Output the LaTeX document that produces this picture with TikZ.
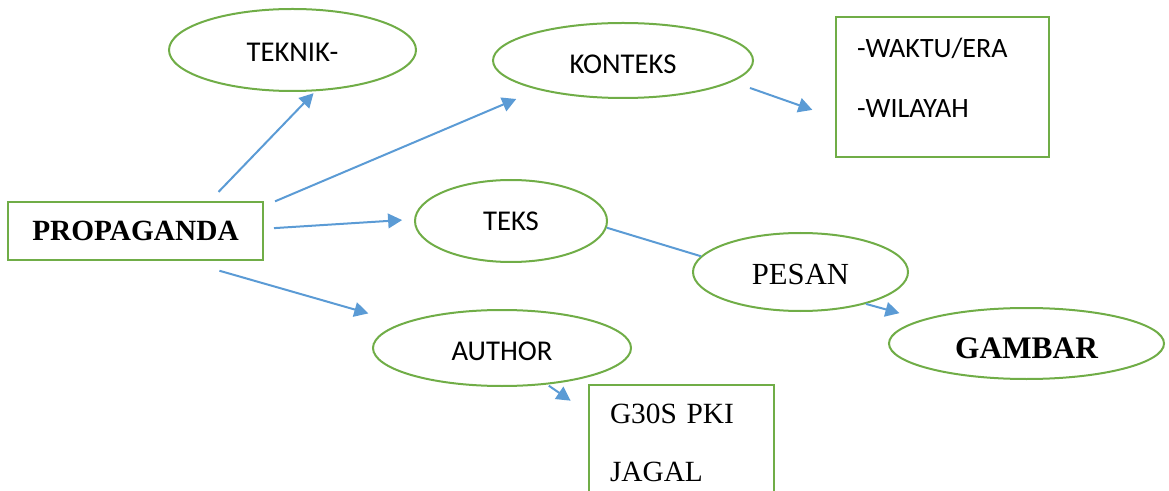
\documentclass[tikz,border=0pt]{standalone}
\usepackage{fontspec}
\setmainfont{Liberation Serif}
\newfontfamily\calibri{Carlito}
\usetikzlibrary{arrows.meta, shapes.geometric}
\usepackage{xcolor}
\definecolor{boxgreen}{RGB}{112,173,71}
\definecolor{arrowblue}{RGB}{91,155,213}

\begin{document}
\begin{tikzpicture}[x=0.75pt, y=-0.75pt, every node/.style={font=\calibri\fontsize{21.5}{26}\selectfont},
	oval/.style={ellipse, draw=boxgreen, line width=1.5pt, inner sep=0pt, text height=18pt, text depth=0pt},
	kotak/.style={rectangle, draw=boxgreen, line width=1.5pt},
	panah/.style={draw=arrowblue, line width=1.5pt, -{Triangle[length=10.5pt, width=11pt]}},
	garis/.style={draw=arrowblue, line width=1.5pt}]
				\useasboundingbox (0,0) rectangle (1169,491);
				\clip (0,0) rectangle (1169,491);
				
				\node[kotak, minimum width=191.25pt, minimum height=43.5pt, font=\normalfont\bfseries\fontsize{22}{26}\selectfont] (prop) at (135.5,231) {PROPAGANDA};
				
				\node[oval, minimum width=185.25pt, minimum height=61.5pt] (teknik) at (292.5,50) {TEKNIK-};
				\node[oval, minimum width=195pt, minimum height=56.25pt, text height=19pt] (konteks) at (623,60.5) {KONTEKS};
				\node[oval, minimum width=144pt, minimum height=61.5pt, text height=15pt] (teks) at (511,221) {TEKS};
				\node[oval, minimum width=193.5pt, minimum height=57pt] (author) at (502,348) {AUTHOR};
				\node[oval, minimum width=161.25pt, minimum height=58.5pt, font=\normalfont\fontsize{23}{26}\selectfont, text height=19pt] (pesan) at (800.5,272) {PESAN};
				\node[oval, minimum width=206.25pt, minimum height=53.25pt, font=\normalfont\bfseries\fontsize{23.5}{26}\selectfont, text height=22.5pt] (gambar) at (1026.5,343.5) {GAMBAR};
				
				% kotak keterangan
				\node[kotak, minimum width=159.75pt, minimum height=105pt, inner xsep=15.75pt, text width=128.25pt, align=left, text depth=58.5pt, font=\calibri\fontsize{21}{45}\selectfont] (waktu) at (942.5,87) {-WAKTU/ERA\\-WILAYAH};
				\node[kotak, minimum width=138.75pt, minimum height=87pt, inner xsep=15.75pt, text width=107.25pt, align=left, font=\normalfont\fontsize{22}{43.5}\selectfont] (gts) at (681.5,443) {G30S PKI\\JAGAL};
				
				\draw[panah, shorten <=9.5pt, shorten >=2pt] (prop.22.9) -- (teknik.-61);
				\draw[panah, shorten <=9pt, shorten >=17.7pt] (prop.11.7) -- (konteks.-161.6);
				\draw[panah, shorten <=7.5pt, shorten >=9pt] (prop.1.1) -- (teks.179);
				\draw[panah, shorten <=26.5pt, shorten >=26.3pt] (prop.-31) -- (author.166.7);
				\draw[panah, shorten <=14.1pt, shorten >=18pt] (konteks.-11.1) -- (waktu.196.1);
				\draw[garis] (teks.-4.4) -- (pesan.171.2);
				\draw[panah, shorten >=17.8pt] (pesan.-26.7) -- (gambar.167.8);
				\draw[panah, shorten <=1.5pt, shorten >=15.8pt] (author.-39.8) -- (gts.162.8);
			\end{tikzpicture}
\end{document}
